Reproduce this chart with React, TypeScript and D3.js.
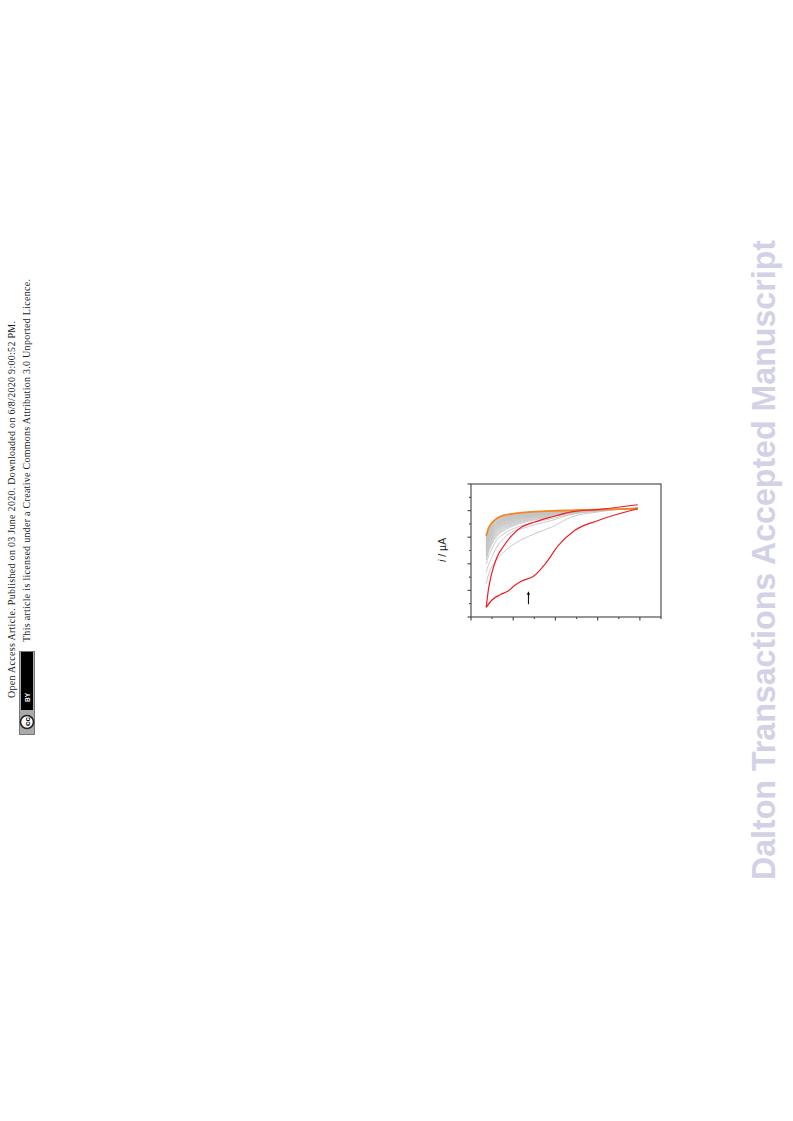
import * as d3 from "d3";

// sweep positions shared by the grey curves and the upper red / orange curves
const sweepX = [0.36, 0.41, 0.49, 0.61, 0.77, 0.97, 1.2, 1.51, 1.91, 2.38, 3.01, 3.95];

const greyCurves = [
    [1.25, 1.57, 1.88, 2.16, 2.44, 2.69, 2.91, 3.13, 3.38, 3.76, 3.95, 4.11],
    [1.69, 1.94, 2.23, 2.63, 2.94, 3.2, 3.32, 3.47, 3.63, 3.86, 3.98, 4.1],
    [2.0, 2.25, 2.55, 2.9, 3.12, 3.3, 3.43, 3.56, 3.7, 3.87, 3.99, 4.09],
    [2.15, 2.42, 2.72, 3.02, 3.24, 3.4, 3.53, 3.65, 3.77, 3.9, 4.0, 4.09],
    [2.22, 2.49, 2.78, 3.07, 3.29, 3.44, 3.57, 3.68, 3.79, 3.91, 4.0, 4.09],
    [2.28, 2.55, 2.84, 3.12, 3.33, 3.48, 3.6, 3.71, 3.81, 3.92, 4.01, 4.09],
    [2.33, 2.61, 2.89, 3.17, 3.37, 3.52, 3.63, 3.74, 3.83, 3.93, 4.01, 4.09],
    [2.38, 2.66, 2.94, 3.21, 3.41, 3.55, 3.66, 3.76, 3.85, 3.94, 4.02, 4.09],
    [2.43, 2.71, 2.98, 3.25, 3.44, 3.58, 3.69, 3.78, 3.86, 3.95, 4.02, 4.08],
    [2.47, 2.75, 3.02, 3.28, 3.47, 3.6, 3.71, 3.8, 3.87, 3.95, 4.02, 4.08],
    [2.51, 2.79, 3.06, 3.31, 3.5, 3.63, 3.73, 3.81, 3.88, 3.96, 4.02, 4.08],
    [2.55, 2.83, 3.09, 3.34, 3.52, 3.65, 3.74, 3.82, 3.89, 3.96, 4.02, 4.08],
    [2.59, 2.87, 3.12, 3.37, 3.55, 3.67, 3.76, 3.84, 3.9, 3.97, 4.03, 4.08],
    [2.62, 2.9, 3.15, 3.39, 3.57, 3.69, 3.77, 3.85, 3.91, 3.97, 4.03, 4.08],
    [2.65, 2.93, 3.18, 3.42, 3.59, 3.71, 3.79, 3.86, 3.92, 3.98, 4.03, 4.08],
    [2.68, 2.96, 3.21, 3.44, 3.61, 3.72, 3.8, 3.87, 3.92, 3.98, 4.03, 4.08],
    [2.71, 2.99, 3.24, 3.46, 3.63, 3.74, 3.82, 3.88, 3.93, 3.98, 4.03, 4.08],
    [2.74, 3.01, 3.26, 3.48, 3.65, 3.75, 3.83, 3.89, 3.94, 3.99, 4.03, 4.08],
    [2.77, 3.04, 3.29, 3.5, 3.66, 3.77, 3.84, 3.9, 3.94, 3.99, 4.03, 4.08],
    [2.8, 3.06, 3.31, 3.52, 3.68, 3.78, 3.85, 3.91, 3.95, 3.99, 4.03, 4.08],
    [2.83, 3.09, 3.34, 3.54, 3.7, 3.8, 3.86, 3.92, 3.96, 4.0, 4.04, 4.08],
    [2.86, 3.11, 3.36, 3.56, 3.71, 3.81, 3.87, 3.92, 3.96, 4.0, 4.04, 4.08],
    [2.89, 3.14, 3.38, 3.58, 3.73, 3.82, 3.88, 3.93, 3.97, 4.0, 4.04, 4.07],
    [2.92, 3.17, 3.41, 3.6, 3.74, 3.83, 3.89, 3.94, 3.97, 4.0, 4.04, 4.07],
    [2.95, 3.2, 3.44, 3.62, 3.76, 3.84, 3.9, 3.94, 3.98, 4.01, 4.04, 4.07],
    [2.98, 3.24, 3.47, 3.65, 3.78, 3.85, 3.9, 3.95, 3.98, 4.01, 4.04, 4.07],
];
const orangeCurve = [3.05, 3.32, 3.53, 3.7, 3.82, 3.88, 3.92, 3.96, 3.99, 4.01, 4.04, 4.07];
const redUpper = [0.36, 1.0, 1.63, 2.23, 2.66, 3.07, 3.38, 3.57, 3.76, 3.95, 4.04, 4.22];

const redLowerX = [0.36, 0.49, 0.69, 0.88, 1.04, 1.2, 1.48, 1.75, 2.07, 2.46, 3.01, 3.95];
const redLowerY = [0.36, 0.63, 0.84, 0.98, 1.19, 1.35, 1.53, 1.98, 2.69, 3.26, 3.63, 4.07];

const xMajorTicks = [0, 1, 2, 3, 4];
const xMinorTicks = [0.5, 1.5, 2.5, 3.5, 4.5];
const yMajorTicks = [0, 1, 2, 3, 4, 5];
const yMinorTicks = [0.5, 1.5, 2.5, 3.5, 4.5];

const arrowX = 1.36;
const arrowY = [0.48, 0.97];

const noteLines = [
    "Open Access Article. Published on 03 June 2020. Downloaded on 6/8/2020 9:00:52 PM.",
    "This article is licensed under a Creative Commons Attribution 3.0 Unported Licence.",
];
const watermark = "Dalton Transactions Accepted Manuscript";

export default function App() {
    const left = 471;
    const right = 661;
    const top = 484;
    const bottom = 617;
    const xScale = d3.scaleLinear().domain([0, 4.5]).range([left, right]);
    const yScale = d3.scaleLinear().domain([0, 5]).range([bottom, top]);
    const line = d3
        .line<[number, number]>()
        .x((d) => xScale(d[0]))
        .y((d) => yScale(d[1]))
        .curve(d3.curveMonotoneX);
    const sweep = (ys: number[]) => line(ys.map((y, i) => [sweepX[i], y] as [number, number])) ?? "";
    const axisColor = "#505050";

    return (
        <svg
            width={793}
            height={1121}
            viewBox="0 0 793 1121"
            style={{ position: "absolute", left: 0, top: 0, display: "block" }}
        >
            {/* watermark */}
            <text
                transform="translate(775,880) rotate(-90)"
                fontFamily="Liberation Sans"
                fontWeight="bold"
                fontSize="33"
                fill="#d2d1e6"
                textLength={640}
                lengthAdjust="spacingAndGlyphs"
            >
                {watermark}
            </text>

            {/* margin note */}
            <text transform="translate(15,698) rotate(-90)" fontFamily="Liberation Serif" fontSize="10" fill="#222" textLength={377}>
                {noteLines[0]}
            </text>
            <text transform="translate(30,642) rotate(-90)" fontFamily="Liberation Serif" fontSize="10" fill="#222" textLength={363}>
                {noteLines[1]}
            </text>

            {/* licence badge */}
            <rect x={19.5} y={651.5} width={15} height={83} fill="#aaa" stroke="#777" strokeWidth={1} />
            <rect x={21} y={652} width={12} height={58} fill="#000" />
            <circle cx={27} cy={722} r={6.5} fill="#fff" stroke="#222" strokeWidth={1.6} />
            <text transform="translate(30,726) rotate(-90)" fontFamily="Liberation Sans" fontWeight="bold" fontSize="8" fill="#000">
                cc
            </text>
            <text transform="translate(29.5,702) rotate(-90)" fontFamily="Liberation Sans" fontWeight="bold" fontSize="6.5" fill="#fff">
                BY
            </text>

            {/* curves */}
            {greyCurves.map((ys, i) => (
                <path key={i} d={sweep(ys)} fill="none" stroke="#c4c4c4" strokeWidth={0.9} />
            ))}
            <path d={sweep(orangeCurve)} fill="none" stroke="#f5861f" strokeWidth={1.8} />
            <path d={sweep(redUpper)} fill="none" stroke="#f01c24" strokeWidth={1.2} />
            <path
                d={line(redLowerX.map((x, i) => [x, redLowerY[i]] as [number, number])) ?? ""}
                fill="none"
                stroke="#f01c24"
                strokeWidth={1.2}
            />

            {/* frame and ticks */}
            <rect x={left} y={top} width={right - left} height={bottom - top} fill="none" stroke={axisColor} strokeWidth={1.2} />
            {yMajorTicks.map((t) => (
                <line key={t} x1={left - 3.5} x2={left} y1={yScale(t)} y2={yScale(t)} stroke={axisColor} strokeWidth={1.2} />
            ))}
            {yMinorTicks.map((t) => (
                <line key={t} x1={left - 2} x2={left} y1={yScale(t)} y2={yScale(t)} stroke={axisColor} strokeWidth={1.2} />
            ))}
            {xMajorTicks.map((t) => (
                <line key={t} x1={xScale(t)} x2={xScale(t)} y1={bottom} y2={bottom + 3.5} stroke={axisColor} strokeWidth={1.2} />
            ))}
            {xMinorTicks.map((t) => (
                <line key={t} x1={xScale(t)} x2={xScale(t)} y1={bottom} y2={bottom + 2} stroke={axisColor} strokeWidth={1.2} />
            ))}

            {/* arrow */}
            <line x1={xScale(arrowX)} x2={xScale(arrowX)} y1={yScale(arrowY[0])} y2={yScale(arrowY[1]) + 2} stroke="#000" strokeWidth={1} />
            <path
                d={d3.line()([
                    [xScale(arrowX) - 1.6, yScale(arrowY[1]) + 3.5],
                    [xScale(arrowX), yScale(arrowY[1])],
                    [xScale(arrowX) + 1.6, yScale(arrowY[1]) + 3.5],
                ]) ?? ""}
                fill="#000"
            />

            {/* y label */}
            <text transform="translate(446,562) rotate(-90)" fontFamily="Liberation Sans" fontSize="10.5" fill="#222">
                <tspan fontStyle="italic">i</tspan> / µA
            </text>
        </svg>
    );
}
